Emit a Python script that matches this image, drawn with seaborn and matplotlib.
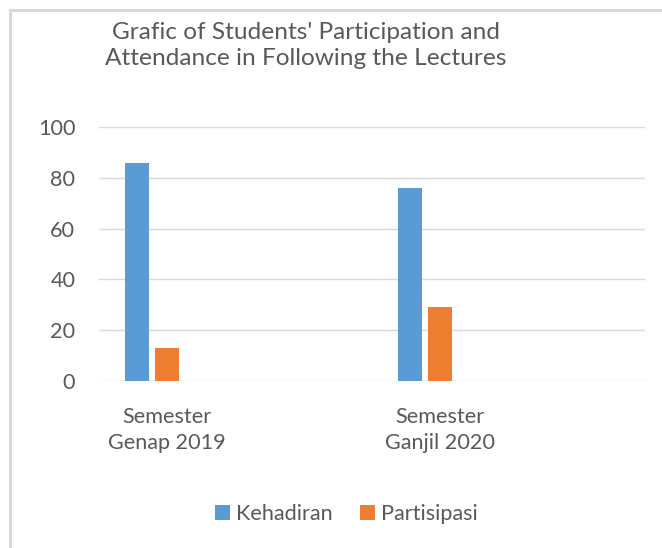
import numpy as np
import pandas as pd
import matplotlib
matplotlib.use("Agg")
import matplotlib.pyplot as plt
from matplotlib.patches import Patch
from matplotlib.lines import Line2D
import seaborn as sns

# data
categories = ["Semester\nGenap 2019", "Semester\nGanjil 2020"]
kehadiran = [86, 76]
partisipasi = [13, 29]
series = ["Kehadiran", "Partisipasi"]
colors = ["#5b9bd5", "#ed7d31"]
title = "Grafic of Students' Participation and\nAttendance in Following the Lectures"

# the excel sheet had an empty row after each semester and a third empty column,
# so keep those slots (NaN) to get the same spacing
slots = []
for c in categories:
    slots.append(c)
    slots.append("_empty_" + c)
rows = []
for s in slots:
    if s in categories:
        i = categories.index(s)
        rows.append((s, "Kehadiran", kehadiran[i]))
        rows.append((s, "Partisipasi", partisipasi[i]))
    else:
        rows.append((s, "Kehadiran", np.nan))
        rows.append((s, "Partisipasi", np.nan))
    rows.append((s, "_none", np.nan))
df = pd.DataFrame(rows, columns=["semester", "seri", "nilai"])

sns.set_theme(style="white")
plt.rcParams["font.family"] = ["Lato", "DejaVu Sans"]
txt = "#595959"
grid = "#d9d9d9"

fig = plt.figure(figsize=(6.62, 5.48), dpi=100)
ax = fig.add_axes([0.1495, 0.305, 0.8245, 0.463])

sns.barplot(data=df, x="semester", y="nilai", hue="seri", order=slots,
            hue_order=series + ["_none"], palette=colors + ["#ffffff"],
            width=0.66, gap=0.2, linewidth=0, saturation=1, ax=ax, legend=False)

ax.set_ylim(0, 100)
ax.set_xlim(-0.5, len(slots) - 0.5)
ax.set_yticks(np.arange(0, 101, 20))
ax.yaxis.grid(True, color=grid, linewidth=1.0)
ax.set_axisbelow(True)
for sp in ax.spines.values():
    sp.set_visible(False)
ax.set_xlabel("")
ax.set_ylabel("")
ax.set_xticks(range(len(slots)))
ax.set_xticklabels([s if s in categories else "" for s in slots],
                   fontsize=15.6, color=txt, linespacing=1.35)
ax.tick_params(axis="x", length=0, pad=19)
ax.tick_params(axis="y", length=0, pad=17, labelsize=15.6, labelcolor=txt)

fig.text(0.462, 0.917, title, ha="center", va="center", fontsize=17.6,
         color=txt, linespacing=1.3)

handles = [Patch(facecolor=c, edgecolor="none") for c in colors]
fig.legend(handles, series, loc="center", bbox_to_anchor=(0.523, 0.062), ncol=2,
           frameon=False, fontsize=15.6, labelcolor=txt, handlelength=0.7,
           handleheight=0.7, handletextpad=0.28, columnspacing=1.25)

# light chart border (left and top visible in the original)
fig.add_artist(Line2D([10 / 662, 10 / 662], [0, 1 - 10 / 548], color=grid,
                      linewidth=2.2, transform=fig.transFigure))
fig.add_artist(Line2D([10 / 662, 1], [1 - 10 / 548, 1 - 10 / 548], color=grid,
                      linewidth=2.2, transform=fig.transFigure))

fig.savefig("out.png", dpi=100)
